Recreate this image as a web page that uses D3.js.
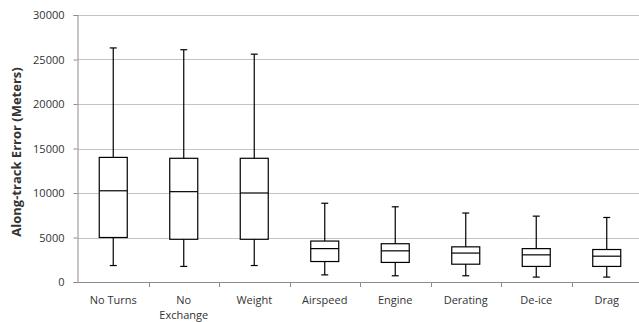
<!DOCTYPE html>
<html>
<head>
<meta charset="utf-8">
<script src="https://cdn.jsdelivr.net/npm/d3@7"></script>
<style>
  body { margin: 0; background: #fff; }
  text { font-family: "Open Sans", "Liberation Sans", sans-serif; fill: #333; }
</style>
</head>
<body>
<script>
var w = 639;
var h = 322;

// categories and box values
var categories = ["No Turns", "No Exchange", "Weight", "Airspeed", "Engine", "Derating", "De-ice", "Drag"];
var mins    = [1850, 1750, 1850, 800, 700, 700, 550, 550];
var q1s     = [5000, 4800, 4800, 2300, 2200, 2000, 1750, 1750];
var medians = [10250, 10150, 10000, 3750, 3500, 3250, 3050, 2900];
var q3s     = [14000, 13900, 13900, 4600, 4300, 3950, 3750, 3650];
var maxs    = [26300, 26100, 25600, 8850, 8450, 7750, 7400, 7250];
var yTicks  = [0, 5000, 10000, 15000, 20000, 25000, 30000];

var margin = {top: 15, right: -3, bottom: 40, left: 78};

var x = d3.scaleBand()
    .domain(categories)
    .range([margin.left, w - margin.right])
    .padding(0);

var y = d3.scaleLinear()
    .domain([0, 30000])
    .range([h - margin.bottom, margin.top]);

var svg = d3.select("body")
    .append("svg")
    .attr("width", w)
    .attr("height", h);

// gridlines
svg.append("g")
    .selectAll("line")
    .data(yTicks)
    .enter()
    .append("line")
    .attr("x1", margin.left)
    .attr("x2", w)
    .attr("y1", function(d) { return Math.round(y(d)) + 0.5; })
    .attr("y2", function(d) { return Math.round(y(d)) + 0.5; })
    .attr("stroke", "#c4c4c4")
    .attr("stroke-width", 1);

// y axis
var yAxis = svg.append("g")
    .attr("transform", "translate(" + (margin.left - 0.5) + ",0)")
    .call(d3.axisLeft(y).tickValues(yTicks).tickSize(4).tickPadding(9).tickFormat(d3.format("d")));
yAxis.select(".domain").attr("stroke", "#8c8c8c");
yAxis.selectAll(".tick line").attr("stroke", "#8c8c8c");
yAxis.selectAll("text").style("font-size", "11px").attr("fill", "#333");

// x axis with ticks between categories
var x0 = h - margin.bottom;
svg.append("line")
    .attr("x1", margin.left).attr("x2", w)
    .attr("y1", Math.round(x0) + 0.5).attr("y2", Math.round(x0) + 0.5)
    .attr("stroke", "#8c8c8c");
svg.append("g")
    .selectAll("line")
    .data(categories.slice(1))
    .enter()
    .append("line")
    .attr("x1", function(d) { return Math.round(x(d)) + 0.5; })
    .attr("x2", function(d) { return Math.round(x(d)) + 0.5; })
    .attr("y1", Math.round(x0))
    .attr("y2", Math.round(x0) + 5)
    .attr("stroke", "#8c8c8c");

var labels = svg.append("g")
    .selectAll("text")
    .data(categories)
    .enter()
    .append("text")
    .attr("text-anchor", "middle")
    .style("font-size", "11px")
    .attr("x", function(d) { return x(d) + x.bandwidth() / 2; })
    .attr("y", x0 + 22);
labels.each(function(d) {
    var parts = d == "No Exchange" ? ["No", "Exchange"] : [d];
    var t = d3.select(this);
    parts.forEach(function(p, i) {
        t.append("tspan")
            .attr("x", x(d) + x.bandwidth() / 2)
            .attr("dy", i == 0 ? 0 : 15)
            .text(p);
    });
});

// y title
svg.append("text")
    .attr("transform", "translate(21,152) rotate(-90)")
    .attr("text-anchor", "middle")
    .style("font-size", "13px")
    .style("font-weight", "bold")
    .attr("fill", "#222")
    .text("Along-track Error (Meters)");

// boxes
var boxW = 28;
var capW = 7;
var boxes = svg.append("g")
    .selectAll("g")
    .data(categories)
    .enter()
    .append("g");

boxes.append("line")
    .attr("x1", function(d) { return x(d) + x.bandwidth() / 2; })
    .attr("x2", function(d) { return x(d) + x.bandwidth() / 2; })
    .attr("y1", function(d, i) { return y(mins[i]); })
    .attr("y2", function(d, i) { return y(maxs[i]); })
    .attr("stroke", "#000")
    .attr("stroke-width", 1.2);

[mins, maxs].forEach(function(arr) {
    boxes.append("line")
        .attr("x1", function(d) { return x(d) + x.bandwidth() / 2 - capW / 2; })
        .attr("x2", function(d) { return x(d) + x.bandwidth() / 2 + capW / 2; })
        .attr("y1", function(d, i) { return y(arr[i]); })
        .attr("y2", function(d, i) { return y(arr[i]); })
        .attr("stroke", "#000")
        .attr("stroke-width", 1.2);
});

boxes.append("rect")
    .attr("x", function(d) { return x(d) + x.bandwidth() / 2 - boxW / 2; })
    .attr("width", boxW)
    .attr("y", function(d, i) { return y(q3s[i]); })
    .attr("height", function(d, i) { return y(q1s[i]) - y(q3s[i]); })
    .attr("fill", "#fff")
    .attr("stroke", "#000")
    .attr("stroke-width", 1.2);

boxes.append("line")
    .attr("x1", function(d) { return x(d) + x.bandwidth() / 2 - boxW / 2; })
    .attr("x2", function(d) { return x(d) + x.bandwidth() / 2 + boxW / 2; })
    .attr("y1", function(d, i) { return y(medians[i]); })
    .attr("y2", function(d, i) { return y(medians[i]); })
    .attr("stroke", "#000")
    .attr("stroke-width", 1.2);
</script>
</body>
</html>
